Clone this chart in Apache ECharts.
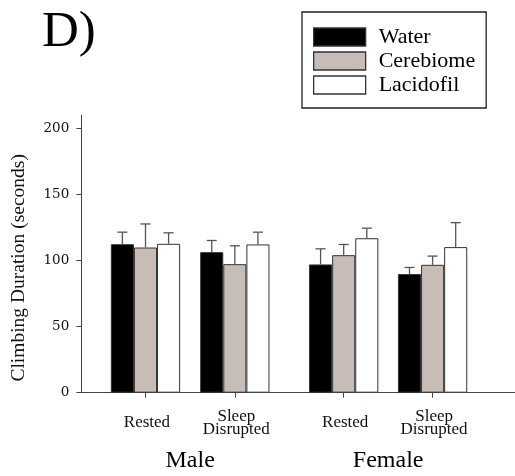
<!DOCTYPE html>
<html>
<head>
<meta charset="utf-8">
<script src="https://cdn.jsdelivr.net/npm/echarts@6/dist/echarts.min.js"></script>
<style>
  html, body { margin: 0; padding: 0; background: #fff; }
  #chart { width: 515px; height: 476px; }
</style>
</head>
<body>
<div id="chart"></div>
<script>
// ---- data ----
const categories = ['Rested', 'Sleep\nDisrupted', 'Rested', 'Sleep\nDisrupted'];
const sexes = ['Male', 'Female'];
const seriesNames = ['Water', 'Cerebiome', 'Lacidofil'];
const waterMean = [112.3, 106.3, 97.0, 89.7];
const waterErr = [9.1, 8.8, 11.8, 5.0];
const cerebiomeMean = [109.8, 97.2, 104.0, 96.7];
const cerebiomeErr = [17.8, 13.9, 8.1, 6.6];
const lacidofilMean = [112.6, 112.1, 116.8, 110.1];
const lacidofilErr = [8.3, 9.3, 7.6, 18.5];
const yTicks = [0, 50, 100, 150, 200];

// ---- layout (not data) ----
const groupPos = [14.8, 35.4, 60.5, 81.0];
const sexPos = [25.1, 70.75];
const barW = 23.1;
const serif = '"Liberation Serif", "Times New Roman", serif';
const colors = ['#000000', '#c7bcb6', '#ffffff'];

const means = [waterMean, cerebiomeMean, lacidofilMean];
const errs = [waterErr, cerebiomeErr, lacidofilErr];

function nearestIdx(arr, v) {
  let best = -1, bd = 1e9;
  arr.forEach((p, i) => { const d = Math.abs(p - v); if (d < bd) { bd = d; best = i; } });
  return bd < 1e-3 ? best : -1;
}

const series = [];
seriesNames.forEach((name, s) => {
  series.push({
    name: name,
    type: 'bar',
    xAxisIndex: 0,
    yAxisIndex: 0,
    barWidth: barW,
    barGap: '0%',
    data: groupPos.map((x, i) => [x, means[s][i]]),
    itemStyle: { color: colors[s], borderColor: '#333', borderWidth: 1 },
    emphasis: { disabled: true },
    z: 2
  });
});
seriesNames.forEach((name, s) => {
  series.push({
    name: name + ' error',
    type: 'custom',
    xAxisIndex: 0,
    yAxisIndex: 0,
    data: groupPos.map((x, i) => [x, means[s][i], means[s][i] + errs[s][i]]),
    encode: { x: 0, y: [1, 2] },
    z: 3,
    renderItem: function (params, api) {
      const p0 = api.coord([api.value(0), api.value(1)]);
      const p1 = api.coord([api.value(0), api.value(2)]);
      const cx = p0[0] + (s - 1) * barW;
      const st = { stroke: '#555', lineWidth: 1.3 };
      return {
        type: 'group',
        children: [
          { type: 'line', shape: { x1: cx, y1: p0[1], x2: cx, y2: p1[1] }, style: st },
          { type: 'line', shape: { x1: cx - 5, y1: p1[1], x2: cx + 5, y2: p1[1] }, style: st }
        ]
      };
    }
  });
});

const chart = echarts.init(document.getElementById('chart'), null, { renderer: 'canvas' });
chart.setOption({
  animation: false,
  backgroundColor: '#fff',
  title: {
    text: 'D)',
    left: 42,
    top: 7,
    padding: 0,
    textStyle: { fontFamily: serif, fontSize: 51, fontWeight: 'normal', color: '#000' }
  },
  legend: {
    data: seriesNames,
    orient: 'vertical',
    left: 302,
    top: 12,
    padding: [14, 11, 12, 11],
    itemWidth: 52,
    itemHeight: 18,
    itemGap: 2,
    icon: 'rect',
    borderColor: '#222',
    borderWidth: 1.3,
    itemStyle: { borderColor: '#333', borderWidth: 1.3 },
    textStyle: { fontFamily: serif, fontSize: 22, color: '#000', padding: [0, 0, 0, 8] },
    selectedMode: false
  },
  grid: { left: 81.3, right: 0, top: 115, bottom: 83.3, containLabel: false },
  xAxis: [
    {
      type: 'value',
      min: 0,
      max: 100,
      splitLine: { show: false },
      axisLine: { show: true, lineStyle: { color: '#444', width: 1 } },
      axisTick: { show: true, length: 5, customValues: groupPos, lineStyle: { color: '#444' } },
      axisLabel: {
        customValues: groupPos,
        formatter: function (v) { const i = nearestIdx(groupPos, v); return i >= 0 ? categories[i] : ''; },
        fontFamily: serif, fontSize: 17, lineHeight: 13, color: '#111',
        verticalAlign: 'middle', margin: 30, padding: [0, 0, 0, 3]
      }
    },
    {
      type: 'value',
      min: 0,
      max: 100,
      position: 'bottom',
      splitLine: { show: false },
      axisLine: { show: false },
      axisTick: { show: false },
      axisLabel: {
        customValues: sexPos,
        formatter: function (v) { const i = nearestIdx(sexPos, v); return i >= 0 ? sexes[i] : ''; },
        fontFamily: serif, fontSize: 24, color: '#000',
        verticalAlign: 'middle', margin: 68
      }
    }
  ],
  yAxis: {
    type: 'value',
    min: 0,
    max: 210,
    name: 'Climbing Duration (seconds)',
    nameLocation: 'middle',
    nameGap: 52,
    nameTextStyle: { fontFamily: serif, fontSize: 19.5, color: '#111', padding: [0, 28, 0, 0] },
    splitLine: { show: false },
    axisLine: { show: true, lineStyle: { color: '#444', width: 1 } },
    axisTick: { show: true, length: 5, customValues: yTicks, lineStyle: { color: '#444' } },
    axisLabel: {
      customValues: yTicks,
      fontFamily: '"DejaVu Serif", serif', fontSize: 13.5, color: '#111', margin: 12
    }
  },
  series: series
});
</script>
</body>
</html>
